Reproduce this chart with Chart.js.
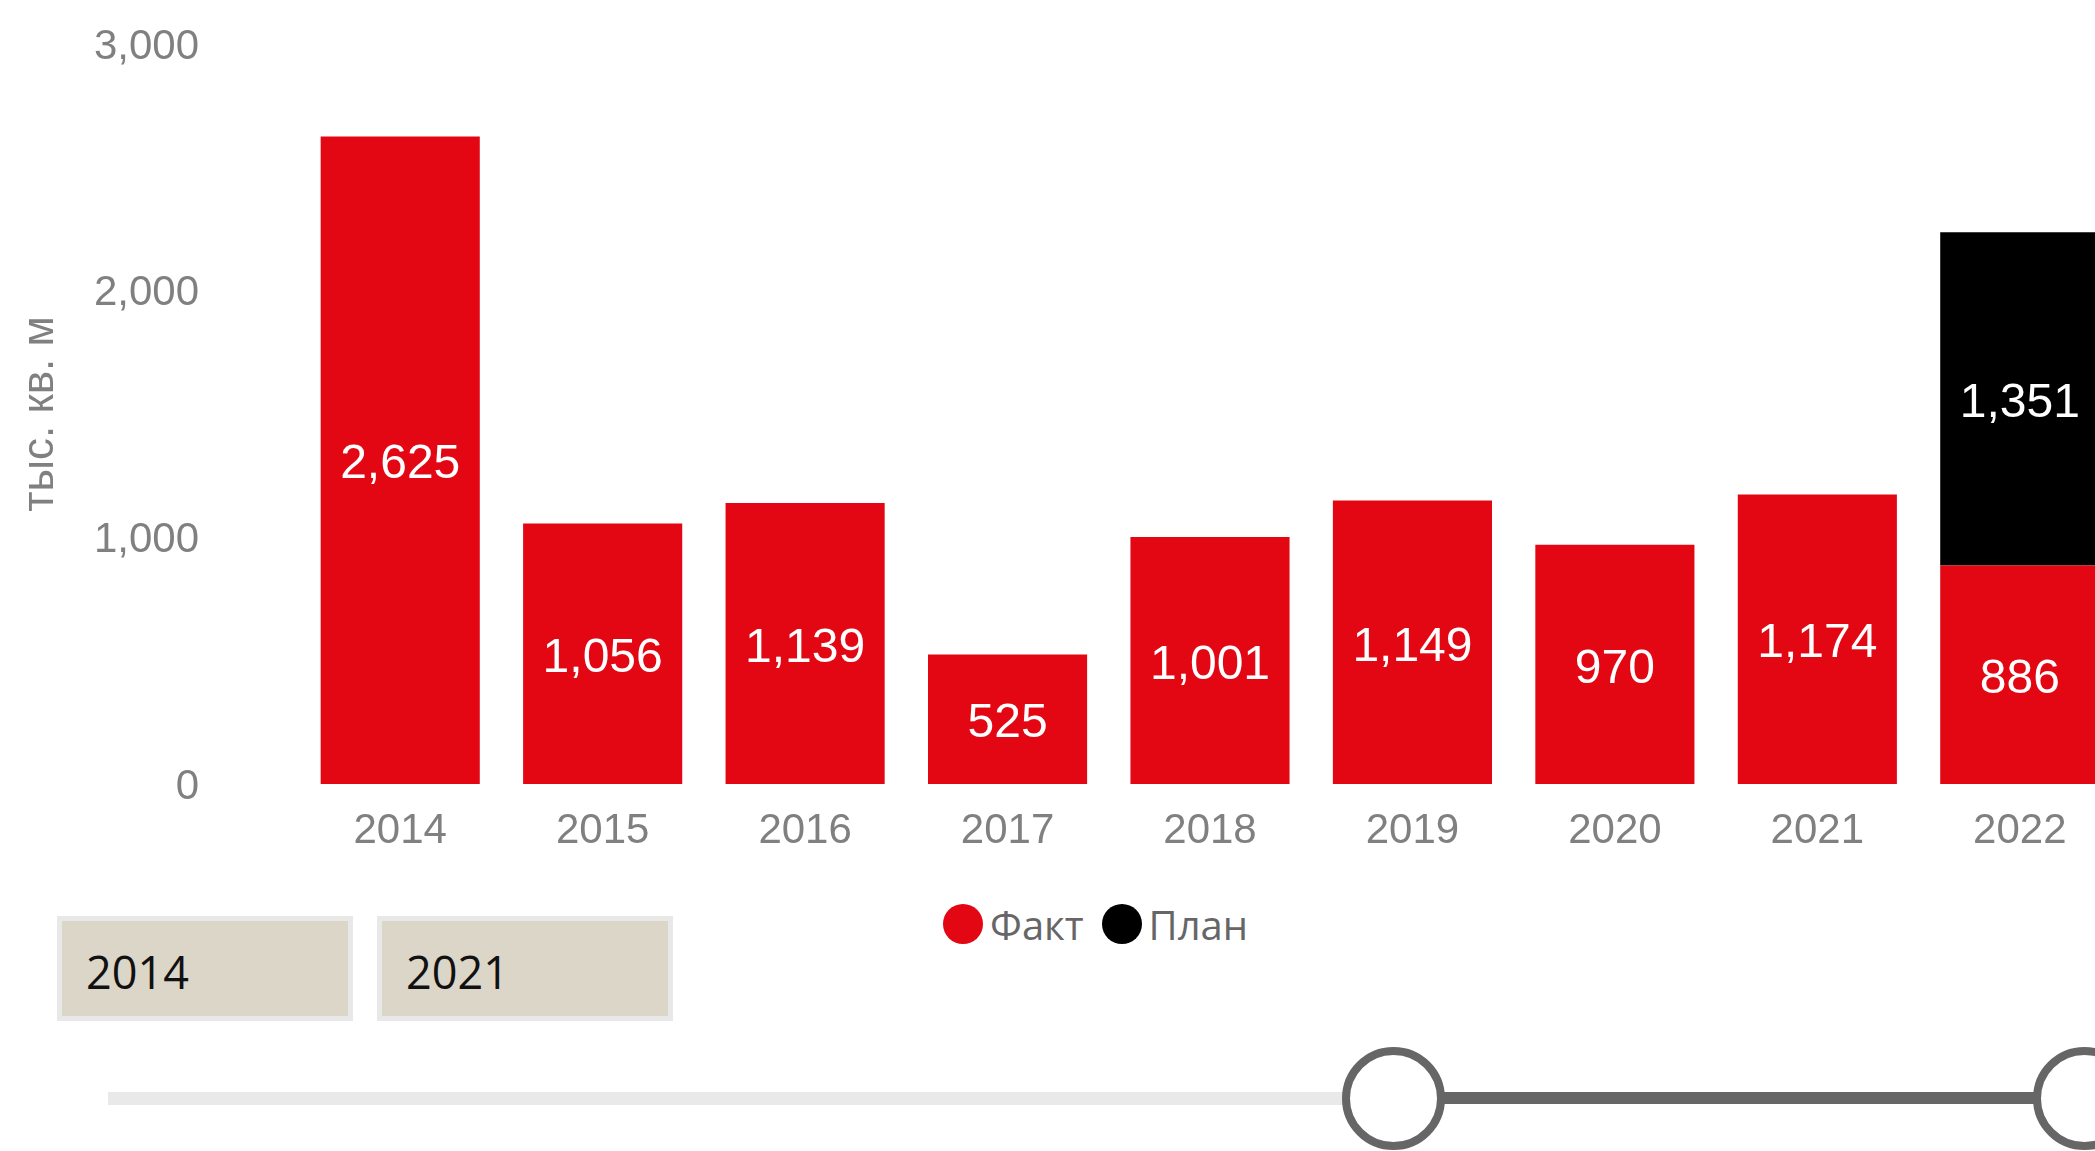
<!DOCTYPE html>
<html lang="ru">
<head>
<meta charset="utf-8">
<title>Ввод жилья</title>
<script src="https://cdn.jsdelivr.net/npm/chart.js@4/dist/chart.umd.min.js"></script>
<style>
  html, body { margin: 0; padding: 0; background: #fff; overflow: hidden; width: 2095px; height: 1151px; }
  #chartBox { position: absolute; left: 0; top: 0; width: 2125px; height: 854px; }
  #legend { position: absolute; left: 943px; top: 902px; height: 44px; display: flex; align-items: center;
            font-family: "Open Sans", "Noto Sans", sans-serif; font-size: 40px; color: #666; }
  #legend .item { display: flex; align-items: center; margin-right: 18px; }
  #legend .dot { width: 40px; height: 40px; border-radius: 50%; margin-right: 7px; }
  .yearBox { position: absolute; top: 916px; width: 296px; height: 105px; box-sizing: border-box;
             border: 5px solid #e8e8e8; background: #dcd6c9; display: flex; align-items: center;
             padding-left: 24px; padding-top: 6px; font-family: "Open Sans", "Noto Sans", sans-serif; font-size: 45px; color: #111; }
  .track { position: absolute; }
  .handle { position: absolute; width: 103px; height: 103px; box-sizing: border-box; border: 8px solid #666;
            border-radius: 50%; background: #fff; }
</style>
</head>
<body>
<div id="chartBox"><canvas id="chart" width="2125" height="854"></canvas></div>
<div id="legend"></div>
<div class="yearBox" id="fromBox" style="left:57px"></div>
<div class="yearBox" id="toBox" style="left:377px"></div>
<div class="track" style="left:108px; top:1092px; width:1290px; height:13px; background:#e9e9e9"></div>
<div class="track" style="left:1394px; top:1092px; width:691px; height:12px; background:#666"></div>
<div class="handle" style="left:1342px; top:1047px"></div>
<div class="handle" style="left:2033px; top:1047px"></div>
<script>
// Жилищное строительство, тыс. кв. м
const years = ['2014', '2015', '2016', '2017', '2018', '2019', '2020', '2021', '2022'];
const factValues = [2625, 1056, 1139, 525, 1001, 1149, 970, 1174, 886];
const planValues = [null, null, null, null, null, null, null, null, 1351];
const seriesNames = ['Факт', 'План'];
const seriesColors = ['#e30613', '#000000'];
const yTicks = [0, 1000, 2000, 3000];
const yTitle = 'тыс. кв. м';
const selectedRange = ['2014', '2021'];

const fmt = v => Number(v).toLocaleString('en-US');
Chart.defaults.font.family = "'Liberation Sans', Arial, Helvetica, sans-serif";

// Values written in the middle of every bar segment
const segmentLabels = {
  id: 'segmentLabels',
  afterDatasetsDraw(chart) {
    const ctx = chart.ctx;
    ctx.save();
    ctx.fillStyle = '#ffffff';
    ctx.font = "48px 'Liberation Sans', Arial, sans-serif";
    ctx.textAlign = 'center';
    ctx.textBaseline = 'middle';
    chart.data.datasets.forEach((ds, di) => {
      const meta = chart.getDatasetMeta(di);
      meta.data.forEach((bar, i) => {
        const v = ds.data[i];
        if (v === null || v === undefined) return;
        ctx.fillText(fmt(v), bar.x, (bar.y + bar.base) / 2 + 5);
      });
    });
    ctx.restore();
  }
};

const chart = new Chart(document.getElementById('chart'), {
  type: 'bar',
  data: {
    labels: years,
    datasets: [
      { label: seriesNames[0], data: factValues, backgroundColor: seriesColors[0], stack: 's' },
      { label: seriesNames[1], data: planValues, backgroundColor: seriesColors[1], stack: 's' }
    ]
  },
  options: {
    responsive: false,
    animation: false,
    devicePixelRatio: 1,
    layout: { padding: { top: 44, right: 4, bottom: 0, left: 0 } },
    datasets: { bar: { categoryPercentage: 0.786, barPercentage: 1 } },
    plugins: { legend: { display: false }, tooltip: { enabled: false } },
    scales: {
      x: {
        stacked: true,
        grid: { display: false, drawTicks: false },
        border: { display: false },
        ticks: { color: '#808080', font: { size: 42 }, padding: 22, maxRotation: 0 },
        afterFit(scale) { scale.height = 70; }
      },
      y: {
        stacked: true,
        min: yTicks[0],
        max: yTicks[yTicks.length - 1],
        // hidden tick marks keep the labels well away from the bars
        grid: { display: false, drawTicks: true, tickLength: 92 },
        border: { display: false },
        afterBuildTicks(scale) { scale.ticks = yTicks.map(v => ({ value: v })); },
        ticks: { color: '#808080', font: { size: 42 }, padding: 8, labelOffset: 3, callback: v => fmt(v) },
        title: { display: true, text: yTitle, color: '#808080', font: { size: 44 }, padding: { top: 14, bottom: 0 } },
        afterFit(scale) { scale.width = 299; }
      }
    }
  },
  plugins: [segmentLabels]
});

// Legend built from the chart's own legend items
const legendEl = document.getElementById('legend');
chart.options.plugins.legend.labels.generateLabels(chart).forEach(item => {
  const el = document.createElement('div');
  el.className = 'item';
  const dot = document.createElement('span');
  dot.className = 'dot';
  dot.style.background = item.fillStyle;
  const txt = document.createElement('span');
  txt.textContent = item.text;
  el.appendChild(dot);
  el.appendChild(txt);
  legendEl.appendChild(el);
});

document.getElementById('fromBox').textContent = selectedRange[0];
document.getElementById('toBox').textContent = selectedRange[1];
</script>
</body>
</html>
